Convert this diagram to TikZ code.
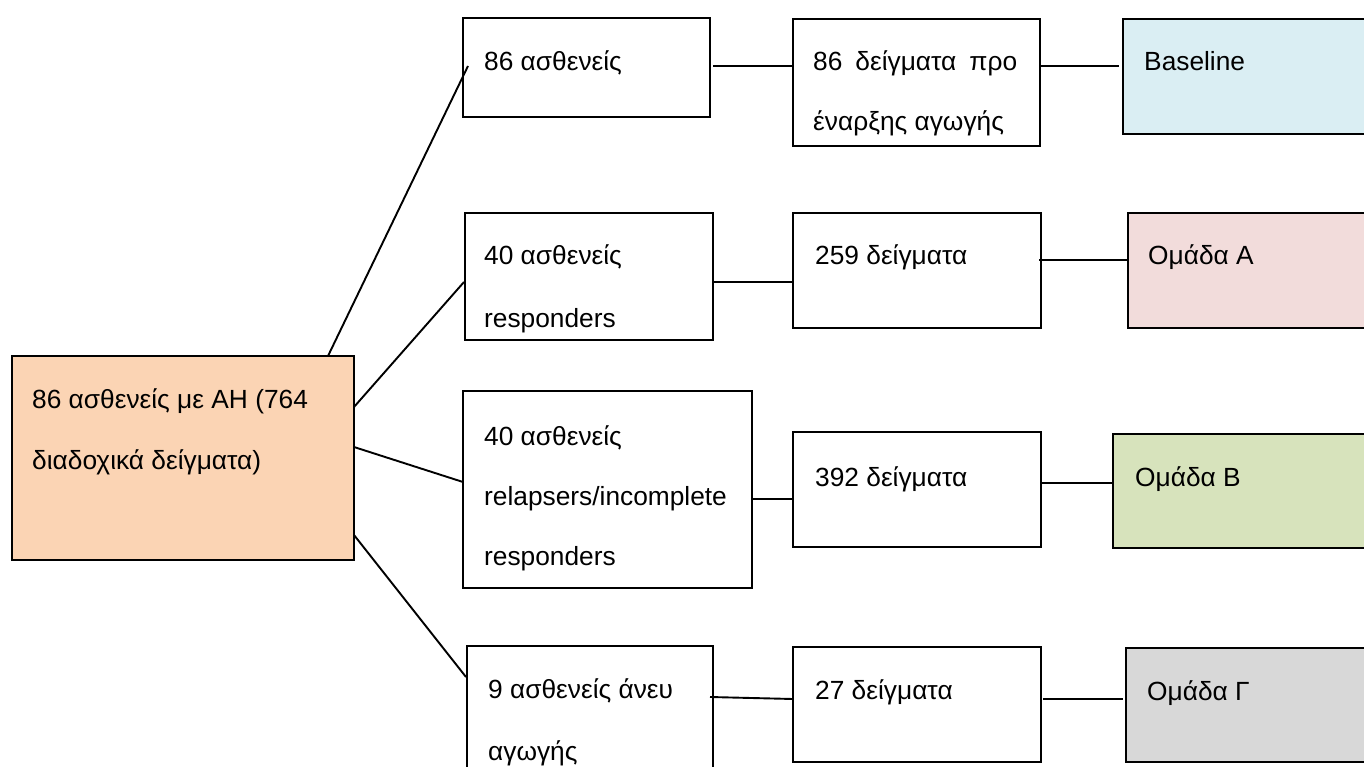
\documentclass[tikz,border=0pt]{standalone}
\usepackage{fontspec}
\setmainfont{Liberation Sans}
\usetikzlibrary{calc}
\definecolor{peach}{HTML}{FBD4B4}
\definecolor{lblue}{HTML}{DAEEF3}
\definecolor{lpink}{HTML}{F2DCDB}
\definecolor{lgreen}{HTML}{D7E3BC}
\definecolor{lgray}{HTML}{D8D8D8}
\begin{document}
\begin{tikzpicture}[x=1pt,y=-1pt,
  boxnode/.style={draw, line width=1.9pt, anchor=north west, inner sep=0pt, outer sep=0pt},
  txt/.style={anchor=base west, inner sep=0pt, font=\fontsize{26.3}{30}\selectfont},
  conn/.style={line width=1.9pt}]
\useasboundingbox (0,0) rectangle (1364,767);
\clip (0,0) rectangle (1364,767);
% boxes
\node[boxnode, fill=peach, minimum width=342pt, minimum height=204pt] (main) at (12,356) {};
\node[boxnode, minimum width=247pt, minimum height=99pt] (b1) at (463,18) {};
\node[boxnode, minimum width=247pt, minimum height=127pt] (b2) at (793,19) {};
\node[boxnode, fill=lblue, minimum width=260pt, minimum height=115pt] (b3) at (1123,19) {};
\node[boxnode, minimum width=248pt, minimum height=127pt] (b4) at (465,213) {};
\node[boxnode, minimum width=248pt, minimum height=115pt] (b5) at (793,213) {};
\node[boxnode, fill=lpink, minimum width=260pt, minimum height=115pt] (b6) at (1128,213) {};
\node[boxnode, minimum width=289pt, minimum height=197pt] (b7) at (463,391) {};
\node[boxnode, minimum width=248pt, minimum height=115pt] (b8) at (793,432) {};
\node[boxnode, fill=lgreen, minimum width=270pt, minimum height=114pt] (b9) at (1113,434) {};
\node[boxnode, minimum width=246pt, minimum height=140pt] (b10) at (467,646) {};
\node[boxnode, minimum width=248pt, minimum height=115pt] (b11) at (793,647) {};
\node[boxnode, fill=lgray, minimum width=260pt, minimum height=114pt] (b12) at (1126,648) {};
% texts
\node[txt] (t0a) at (32,408) {86 ασθενείς με ΑΗ (764};
\node[txt] (t0b) at (32,469) {διαδοχικά δείγματα)};
\node[txt] (t1) at (484,71) {86 ασθενείς};
\node[txt] (t2a) at (813,71) {\makebox[204pt][s]{86 δείγματα προ}};
\node[txt] (t2b) at (813,131) {έναρξης αγωγής};
\node[txt] (t3) at (1144,71) {Baseline};
\node[txt] (t4a) at (484,265) {40 ασθενείς};
\node[txt] (t4b) at (484,327) {responders};
\node[txt] (t5) at (815,265) {259 δείγματα};
\node[txt] (t6) at (1148,265) {Ομάδα Α};
\node[txt] (t7a) at (484,445) {40 ασθενείς};
\node[txt] (t7b) at (484,505) {relapsers/incomplete};
\node[txt] (t7c) at (484,565) {responders};
\node[txt] (t8) at (815,486) {392 δείγματα};
\node[txt] (t9) at (1135,486) {Ομάδα Β};
\node[txt] (t10a) at (488,698) {9 ασθενείς άνευ};
\node[txt] (t10b) at (488,760) {αγωγής};
\node[txt] (t11) at (815,699) {27 δείγματα};
\node[txt] (t12) at (1147,700) {Ομάδα Γ};
% connectors
\draw[conn] ($(main.north east)+(-26,0)$) -- ($(b1.west)+(5,-1.5)$);
\draw[conn] ($(main.east)+(0,-51)$) -- ($(b4.west)+(-1,5.5)$);
\draw[conn] ($(main.east)+(0,-11)$) -- ($(b7.west)+(0,-7.5)$);
\draw[conn] ($(main.east)+(0,77)$) -- ($(b10.north west)+(-1,31)$);
\draw[conn] ($(b1.east)+(3,-1.5)$) -- ($(b2.west)+(0,-16.5)$);
\draw[conn] ($(b2.east)+(0,-16.5)$) -- ($(b3.west)+(-4,-10.5)$);
\draw[conn] ($(b4.east)+(0,5.5)$) -- ($(b5.west)+(0,11.5)$);
\draw[conn] ($(b5.east)+(-2,-10.5)$) -- ($(b6.west)+(0,-10.5)$);
\draw[conn] ($(b7.east)+(0,9.5)$) -- ($(b8.west)+(0,9.5)$);
\draw[conn] ($(b8.east)+(0,-6.5)$) -- ($(b9.west)+(0,-8)$);
\draw[conn] ($(b10.north east)+(-3,51)$) -- ($(b11.west)+(0,-5.5)$);
\draw[conn] ($(b11.east)+(2,-5.5)$) -- ($(b12.west)+(-3,-6)$);
\end{tikzpicture}
\end{document}
